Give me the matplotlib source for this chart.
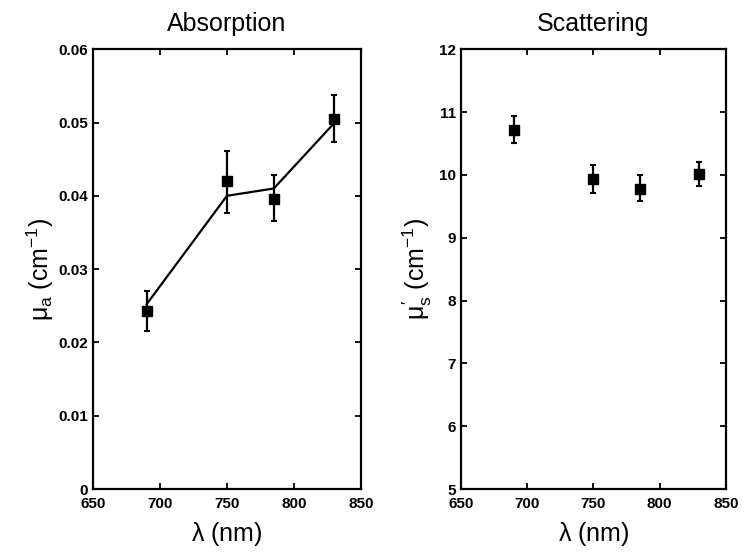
import matplotlib
matplotlib.use('Agg')
import matplotlib.pyplot as plt
import numpy as np

plt.rcParams['font.family'] = ['Liberation Sans', 'DejaVu Sans']
plt.rcParams['mathtext.fontset'] = 'custom'
plt.rcParams['mathtext.rm'] = 'Liberation Sans'
plt.rcParams['mathtext.it'] = 'Liberation Sans'
plt.rcParams['mathtext.bf'] = 'Liberation Sans:bold'

# wavelengths (nm)
wl = [690, 750, 785, 830]

# absorption: measured points, error bars and fitted line
mua = [0.0243, 0.0420, 0.0396, 0.0505]
mua_err_lo = [0.0028, 0.0043, 0.0031, 0.0032]
mua_err_hi = [0.0027, 0.0041, 0.0032, 0.0032]
mua_fit = [0.0252, 0.0400, 0.0410, 0.0499]

# reduced scattering
mus = [10.72, 9.93, 9.78, 10.01]
mus_err_lo = [0.22, 0.22, 0.20, 0.19]
mus_err_hi = [0.22, 0.22, 0.21, 0.19]

fig = plt.figure(figsize=(7.46, 5.56), dpi=100)
ax1 = fig.add_axes([0.1247, 0.1205, 0.359, 0.791])
ax2 = fig.add_axes([0.618, 0.1205, 0.355, 0.791])


def style(ax):
    for s in ax.spines.values():
        s.set_linewidth(1.6)
    ax.tick_params(direction='in', length=4, width=1.3, top=True, right=True,
                   labelsize=11)
    ax.tick_params(axis='x', pad=6)
    ax.tick_params(axis='y', pad=3.5)
    for lab in ax.get_xticklabels() + ax.get_yticklabels():
        lab.set_fontweight('bold')
    ax.set_xlim(650, 850)
    ax.set_xticks([650, 700, 750, 800, 850])
    ax.set_xlabel(r'$\lambda$ (nm)', fontsize=18, labelpad=6)


ax1.plot(wl, mua_fit, color='black', lw=1.6)
ax1.errorbar(wl, mua, yerr=[mua_err_lo, mua_err_hi], fmt='s', color='black',
             ms=7.5, elinewidth=1.6, capsize=2.5, capthick=1.5)
ax1.set_ylim(0, 0.06)
ax1.set_yticks([0, 0.01, 0.02, 0.03, 0.04, 0.05, 0.06])
ax1.set_yticklabels(['0', '0.01', '0.02', '0.03', '0.04', '0.05', '0.06'])
ax1.set_ylabel(r'$\mu_a$ (cm$^{-1}$)', fontsize=18, labelpad=2)
ax1.set_title('Absorption', fontsize=18, pad=13)
style(ax1)

ax2.errorbar(wl, mus, yerr=[mus_err_lo, mus_err_hi], fmt='s', color='black',
             ms=7.5, elinewidth=1.6, capsize=2.5, capthick=1.5)
ax2.set_ylim(5, 12)
ax2.set_yticks(range(5, 13))
ax2.set_ylabel(r"$\mu_s^{\prime}$ (cm$^{-1}$)", fontsize=18, labelpad=4)
ax2.set_title('Scattering', fontsize=18, pad=13)
style(ax2)

fig.savefig('out.png', dpi=100)
